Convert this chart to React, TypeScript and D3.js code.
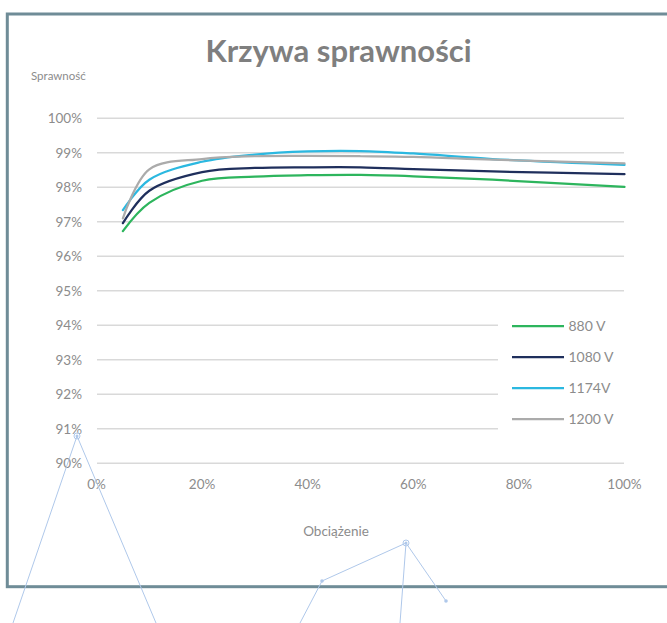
import React from "react";
import * as d3 from "d3";

const loads = [5, 10, 20, 30, 40, 50, 60, 75, 100];
const eff880 = [96.73, 97.55, 98.19, 98.31, 98.35, 98.36, 98.32, 98.22, 98.01];
const eff1080 = [96.96, 97.9, 98.44, 98.56, 98.58, 98.58, 98.53, 98.46, 98.38];
const eff1174 = [97.34, 98.22, 98.74, 98.95, 99.04, 99.05, 98.98, 98.82, 98.65];
const eff1200 = [97.1, 98.52, 98.82, 98.9, 98.91, 98.9, 98.88, 98.8, 98.69];
const seriesNames = ["880 V", "1080 V", "1174V", "1200 V"];
const seriesColors = ["#2DB55D", "#1F2F5C", "#2BB8E0", "#ABABAB"];
const yTicks = [90, 91, 92, 93, 94, 95, 96, 97, 98, 99, 100];
const xTicks = [0, 20, 40, 60, 80, 100];

const W = 667;
const H = 623;
const FONT = "Lato, 'Open Sans', sans-serif";

export default function App() {
  const x = d3.scaleLinear().domain([0, 100]).range([96.5, 624.5]);
  const y = d3.scaleLinear().domain([90, 100]).range([463.3, 118.3]);
  const series = [eff880, eff1080, eff1174, eff1200];
  const line = d3
    .line<[number, number]>()
    .x((d) => x(d[0]))
    .y((d) => y(d[1]))
    .curve(d3.curveCatmullRom.alpha(0.5));

  const legendX0 = 512;
  const legendX1 = 564;
  const legendY = d3.scalePoint<string>().domain(seriesNames).range([326, 419]);

  const deco = "#AFC8EA";

  return (
    <svg
      width={W}
      height={H}
      style={{ position: "absolute", left: 0, top: 0, background: "#fff" }}
      fontFamily={FONT}
    >
      <rect x={0} y={0} width={W} height={H} fill="#fff" />
      {/* frame */}
      <rect x={7.3} y={14} width={680} height={572.7} fill="none" stroke="#6F8C97" strokeWidth={3} />

      {/* title */}
      <text x={338.5} y={62} textAnchor="middle" fontSize={31} fontWeight={700} fill="#7F7F7F">
        Krzywa sprawności
      </text>
      <text x={31} y={76} dy="0.35em" fontSize={11.5} fill="#8C8C8C">
        Sprawność
      </text>

      {/* gridlines */}
      {yTicks.map((t) => {
        const short = t >= 91 && t <= 94;
        return (
          <line
            key={"g" + t}
            x1={97}
            x2={short ? 498 : 624}
            y1={y(t)}
            y2={y(t)}
            stroke="#D9D9D9"
            strokeWidth={1.5}
          />
        );
      })}
      {yTicks.map((t) => (
        <text
          key={"yl" + t}
          x={82}
          y={y(t)}
          dy="0.35em"
          textAnchor="end"
          fontSize={13.5}
          fill="#8C8C8C"
        >
          {t + "%"}
        </text>
      ))}
      {xTicks.map((t) => (
        <text
          key={"xl" + t}
          x={x(t)}
          y={484}
          dy="0.35em"
          textAnchor="middle"
          fontSize={13.5}
          fill="#8C8C8C"
        >
          {t + "%"}
        </text>
      ))}
      <text x={336} y={531} dy="0.35em" textAnchor="middle" fontSize={13.5} fill="#8C8C8C">
        Obciążenie
      </text>

      {/* series */}
      {series.map((vals, i) => (
        <path
          key={"s" + i}
          d={line(loads.map((l, j) => [l, vals[j]] as [number, number])) || ""}
          fill="none"
          stroke={seriesColors[i]}
          strokeWidth={2.25}
          strokeLinecap="round"
        />
      ))}

      {/* legend */}
      {seriesNames.map((n, i) => (
        <g key={"lg" + i}>
          <line
            x1={legendX0}
            x2={legendX1}
            y1={legendY(n)!}
            y2={legendY(n)!}
            stroke={seriesColors[i]}
            strokeWidth={2.25}
          />
          <text x={568.5} y={legendY(n)!} dy="0.35em" fontSize={14} fill="#8C8C8C">
            {n}
          </text>
        </g>
      ))}

      {/* decorative connector lines */}
      <g stroke={deco} strokeWidth={1} fill="none">
        <line x1={77} y1={436} x2={13} y2={623} />
        <line x1={77} y1={436} x2={156} y2={623} />
        <circle cx={77} cy={436} r={3} />
        <line x1={406} y1={543} x2={322} y2={581} />
        <line x1={406} y1={543} x2={446} y2={601} />
        <line x1={406} y1={543} x2={400} y2={623} />
        <line x1={322} y1={581} x2={300} y2={623} />
        <circle cx={406} cy={543} r={3} />
      </g>
      <g fill={deco}>
        <circle cx={77} cy={436} r={1.5} />
        <circle cx={406} cy={543} r={1.5} />
        <circle cx={322} cy={581} r={1.8} />
        <circle cx={446} cy={601} r={1.8} />
      </g>
    </svg>
  );
}
